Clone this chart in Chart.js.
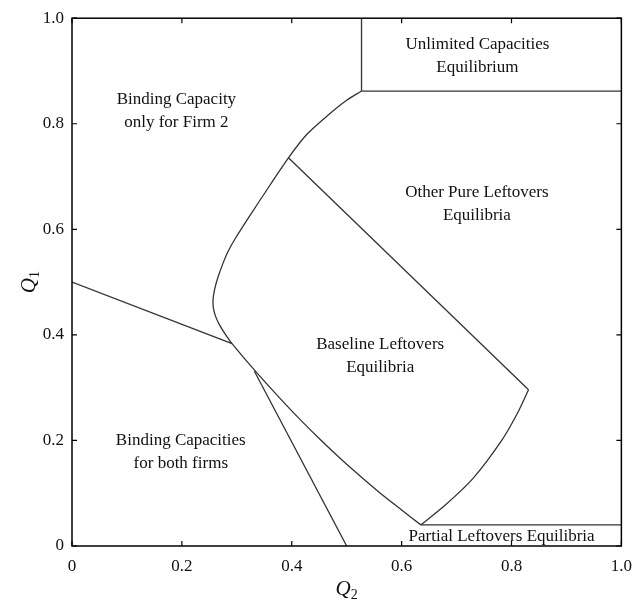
<!DOCTYPE html>
<html>
<head>
<meta charset="utf-8">
<script src="https://cdn.jsdelivr.net/npm/chart.js@4/dist/chart.umd.min.js"></script>
<style>
  html, body { margin: 0; padding: 0; background: #fff; }
  #wrap { width: 642px; height: 600px; }
</style>
</head>
<body>
<div id="wrap"><canvas id="c" width="642" height="600"></canvas></div>
<script>
// Tick values shared by both axes
const tickValues = [0, 0.2, 0.4, 0.6, 0.8, 1.0];

// Region boundaries, as [Q2, Q1] pairs
const leftBoundary = [[0, 0.5], [0.2913, 0.3835]];
const steepBoundary = [[0.332, 0.331], [0.5, 0]];
const baselineLeftCurve = [
  [0.527, 0.862], [0.50, 0.8445], [0.468, 0.818], [0.428, 0.7805],
  [0.394, 0.7355], [0.36, 0.683], [0.325, 0.628], [0.298, 0.584],
  [0.284, 0.558], [0.2746, 0.535], [0.266, 0.510], [0.260, 0.488],
  [0.2568, 0.468], [0.2572, 0.452], [0.2610, 0.436], [0.268, 0.420],
  [0.278, 0.403], [0.2913, 0.3835], [0.335, 0.330], [0.40, 0.256],
  [0.45, 0.2036], [0.50, 0.1548], [0.559, 0.1019], [0.60, 0.0683],
  [0.635, 0.04]
];
const baselineRightCurve = [
  [0.635, 0.04], [0.68, 0.078], [0.73, 0.128], [0.7816, 0.199],
  [0.81, 0.25], [0.831, 0.296]
];
const baselineTopEdge = [[0.831, 0.296], [0.394, 0.7355]];
const unlimitedBottom = [[0.527, 0.862], [1.0, 0.862]];
const unlimitedSide = [[0.527, 0.862], [0.527, 1.0]];
const partialTop = [[0.635, 0.04], [1.0, 0.04]];

// Region names: lines of text and the [Q2, Q1] centre of each block
const regionTexts = [
  ['Unlimited Capacities', 'Equilibrium'],
  ['Binding Capacity', 'only for Firm 2'],
  ['Other Pure Leftovers', 'Equilibria'],
  ['Baseline Leftovers', 'Equilibria'],
  ['Binding Capacities', 'for both firms'],
  ['Partial Leftovers Equilibria']
];
const regionCenters = [
  [0.738, 0.928], [0.19, 0.824], [0.737, 0.647],
  [0.561, 0.36], [0.198, 0.178], [0.782, 0.017]
];

const SERIF = '"Liberation Serif", "Times New Roman", serif';
const LINE = '#333';

function toPts(arr) { return arr.map(p => ({ x: p[0], y: p[1] })); }
function seg(arr, tension) {
  return {
    data: toPts(arr),
    showLine: true,
    borderColor: LINE,
    borderWidth: 1.3,
    pointRadius: 0,
    pointHoverRadius: 0,
    tension: tension || 0,
    fill: false
  };
}
function fmt(v) { return v === 0 ? '0' : v.toFixed(1); }

// Frame, inward ticks on all four sides, region names and axis titles
const decor = {
  id: 'decor',
  afterDatasetsDraw(chart) {
    const { ctx, chartArea: a, scales } = chart;
    const xs = scales.x, ys = scales.y;
    ctx.save();
    ctx.strokeStyle = '#000';
    ctx.lineWidth = 1.5;
    ctx.strokeRect(a.left, a.top, a.right - a.left, a.bottom - a.top);
    ctx.lineWidth = 1.2;
    const tl = 5;
    ctx.beginPath();
    tickValues.forEach(v => {
      const px = xs.getPixelForValue(v);
      ctx.moveTo(px, a.bottom); ctx.lineTo(px, a.bottom - tl);
      ctx.moveTo(px, a.top); ctx.lineTo(px, a.top + tl);
      const py = ys.getPixelForValue(v);
      ctx.moveTo(a.left, py); ctx.lineTo(a.left + tl, py);
      ctx.moveTo(a.right, py); ctx.lineTo(a.right - tl, py);
    });
    ctx.stroke();

    ctx.fillStyle = '#111';
    ctx.font = '17px ' + SERIF;
    ctx.textAlign = 'center';
    ctx.textBaseline = 'middle';
    const lh = 23;
    regionTexts.forEach((lines, i) => {
      const cx = xs.getPixelForValue(regionCenters[i][0]);
      const cy = ys.getPixelForValue(regionCenters[i][1]);
      const start = cy - (lines.length - 1) * lh / 2;
      lines.forEach((t, j) => ctx.fillText(t, cx, start + j * lh));
    });

    // Axis titles: Q2 below, Q1 rotated on the left
    function qTitle(sub) {
      ctx.font = 'italic 21px ' + SERIF;
      const w = ctx.measureText('Q').width;
      ctx.font = '14px ' + SERIF;
      const ws = ctx.measureText(sub).width;
      const total = w + ws;
      ctx.textAlign = 'left';
      ctx.textBaseline = 'alphabetic';
      ctx.font = 'italic 21px ' + SERIF;
      ctx.fillText('Q', -total / 2, 7);
      ctx.font = '14px ' + SERIF;
      ctx.fillText(sub, -total / 2 + w, 11);
    }
    ctx.save();
    ctx.translate((a.left + a.right) / 2, 588);
    qTitle('2');
    ctx.restore();
    ctx.save();
    ctx.translate(28, (a.top + a.bottom) / 2);
    ctx.rotate(-Math.PI / 2);
    qTitle('1');
    ctx.restore();
    ctx.restore();
  }
};

new Chart(document.getElementById('c'), {
  type: 'scatter',
  data: {
    datasets: [
      seg(leftBoundary),
      seg(steepBoundary),
      seg(baselineLeftCurve, 0.3),
      seg(baselineRightCurve, 0.3),
      seg(baselineTopEdge),
      seg(unlimitedBottom),
      seg(unlimitedSide),
      seg(partialTop)
    ]
  },
  options: {
    responsive: false,
    animation: false,
    events: [],
    layout: { padding: { top: 13, right: 18, left: 0, bottom: 0 } },
    plugins: { legend: { display: false }, tooltip: { enabled: false } },
    scales: {
      x: {
        type: 'linear', min: 0, max: 1,
        afterBuildTicks(s) { s.ticks = tickValues.map(v => ({ value: v })); },
        afterFit(s) { s.height = 54; },
        grid: { display: false, drawTicks: false },
        border: { display: false },
        ticks: {
          padding: 10, color: '#111',
          font: { family: SERIF, size: 17 },
          callback: v => fmt(v)
        }
      },
      y: {
        type: 'linear', min: 0, max: 1,
        afterBuildTicks(s) { s.ticks = tickValues.map(v => ({ value: v })); },
        afterFit(s) { s.width = 72; },
        grid: { display: false, drawTicks: false },
        border: { display: false },
        ticks: {
          padding: 8, color: '#111',
          font: { family: SERIF, size: 17 },
          callback: v => fmt(v)
        }
      }
    }
  },
  plugins: [decor]
});
</script>
</body>
</html>
